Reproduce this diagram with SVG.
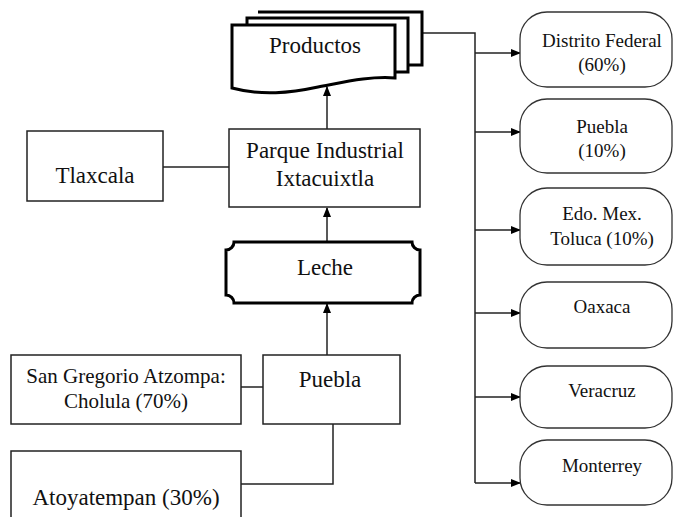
<svg xmlns="http://www.w3.org/2000/svg" width="674" height="517" viewBox="0 0 674 517">
<style>
.box{fill:#fff;stroke:#222;stroke-width:1.5}
.rbox{fill:#fff;stroke:#333;stroke-width:1.3}
.doc{fill:#fff;stroke:#000;stroke-width:3}
.ln{fill:none;stroke:#222;stroke-width:1.5}
</style>
<defs>
<marker id="ah" markerWidth="10" markerHeight="10" refX="9" refY="5" orient="auto" markerUnits="userSpaceOnUse">
<path d="M0,1 L10,5 L0,9 Z" fill="#000"/>
</marker>
</defs>
<g id="connectors">
<path class="ln" d="M163,167 H229"/>
<path class="ln" d="M327,129 V87" marker-end="url(#ah)"/>
<path class="ln" d="M327,242 V208" marker-end="url(#ah)"/>
<path class="ln" d="M327,355 V304" marker-end="url(#ah)"/>
<path class="ln" d="M241,387 H263"/>
<path class="ln" d="M333,424 V484 H241"/>
<path class="ln" d="M422,33 H475 V483"/>
<path class="ln" d="M475,53 H520" marker-end="url(#ah)"/>
<path class="ln" d="M475,132 H520" marker-end="url(#ah)"/>
<path class="ln" d="M475,230 H520" marker-end="url(#ah)"/>
<path class="ln" d="M475,313 H520" marker-end="url(#ah)"/>
<path class="ln" d="M475,397 H520" marker-end="url(#ah)"/>
<path class="ln" d="M475,483 H520" marker-end="url(#ah)"/>
</g>
<g id="productos">
<path class="doc" d="M258,12 H422 V65 H408"/>
<path class="doc" d="M247,25 V18 H408 V72 H395"/>
<path class="doc" d="M232,25 H395 V78 C370,76 345,82 318,87 C290,93 262,96 232,88 Z"/>
<text x="315" y="53" font-family="Liberation Serif" font-size="23" text-anchor="middle" fill="#111">Productos</text>
</g>
<g id="tlaxcala">
<rect class="box" x="27" y="131" width="136" height="70"/>
<text x="95" y="183" font-family="Liberation Serif" font-size="23" text-anchor="middle" fill="#111">Tlaxcala</text>
</g>
<g id="parque">
<rect class="box" x="229" y="129" width="191" height="78"/>
<text x="325" y="158" font-family="Liberation Serif" font-size="23" text-anchor="middle" fill="#111">Parque Industrial</text>
<text x="325" y="186" font-family="Liberation Serif" font-size="23" text-anchor="middle" fill="#111">Ixtacuixtla</text>
</g>
<g id="leche">
<path class="doc" d="M234,242 H412 A8,8 0 0 0 420,250 V295 A8,8 0 0 0 412,303 H234 A8,8 0 0 0 226,295 V250 A8,8 0 0 0 234,242 Z"/>
<text x="325" y="275" font-family="Liberation Serif" font-size="23" text-anchor="middle" fill="#111">Leche</text>
</g>
<g id="puebla-origen">
<rect class="box" x="263" y="355" width="137" height="69"/>
<text x="330" y="387" font-family="Liberation Serif" font-size="23" text-anchor="middle" fill="#111">Puebla</text>
</g>
<g id="san-gregorio">
<rect class="box" x="11" y="355" width="230" height="69"/>
<text x="126" y="383" font-family="Liberation Serif" font-size="21" text-anchor="middle" fill="#111">San Gregorio Atzompa:</text>
<text x="126" y="408" font-family="Liberation Serif" font-size="21" text-anchor="middle" fill="#111">Cholula (70%)</text>
</g>
<g id="atoyatempan">
<rect class="box" x="11" y="451" width="230" height="80"/>
<text x="126" y="505" font-family="Liberation Serif" font-size="23" text-anchor="middle" fill="#111">Atoyatempan (30%)</text>
</g>
<g id="distrito-federal">
<rect class="rbox" x="520" y="12" width="152" height="75" rx="27"/>
<text x="602" y="47" font-family="Liberation Serif" font-size="19" text-anchor="middle" fill="#111">Distrito Federal</text>
<text x="602" y="71" font-family="Liberation Serif" font-size="19" text-anchor="middle" fill="#111">(60%)</text>
</g>
<g id="puebla-destino">
<rect class="rbox" x="520" y="99" width="152" height="74" rx="27"/>
<text x="602" y="133" font-family="Liberation Serif" font-size="19" text-anchor="middle" fill="#111">Puebla</text>
<text x="602" y="157" font-family="Liberation Serif" font-size="19" text-anchor="middle" fill="#111">(10%)</text>
</g>
<g id="edomex">
<rect class="rbox" x="520" y="188" width="152" height="77" rx="27"/>
<text x="602" y="220" font-family="Liberation Serif" font-size="19" text-anchor="middle" fill="#111">Edo. Mex.</text>
<text x="602" y="245" font-family="Liberation Serif" font-size="19" text-anchor="middle" fill="#111">Toluca (10%)</text>
</g>
<g id="oaxaca">
<rect class="rbox" x="520" y="282" width="152" height="66" rx="27"/>
<text x="602" y="313" font-family="Liberation Serif" font-size="19" text-anchor="middle" fill="#111">Oaxaca</text>
</g>
<g id="veracruz">
<rect class="rbox" x="520" y="366" width="152" height="62" rx="27"/>
<text x="602" y="397" font-family="Liberation Serif" font-size="19" text-anchor="middle" fill="#111">Veracruz</text>
</g>
<g id="monterrey">
<rect class="rbox" x="520" y="440" width="152" height="65" rx="27"/>
<text x="602" y="472" font-family="Liberation Serif" font-size="19" text-anchor="middle" fill="#111">Monterrey</text>
</g>
</svg>
